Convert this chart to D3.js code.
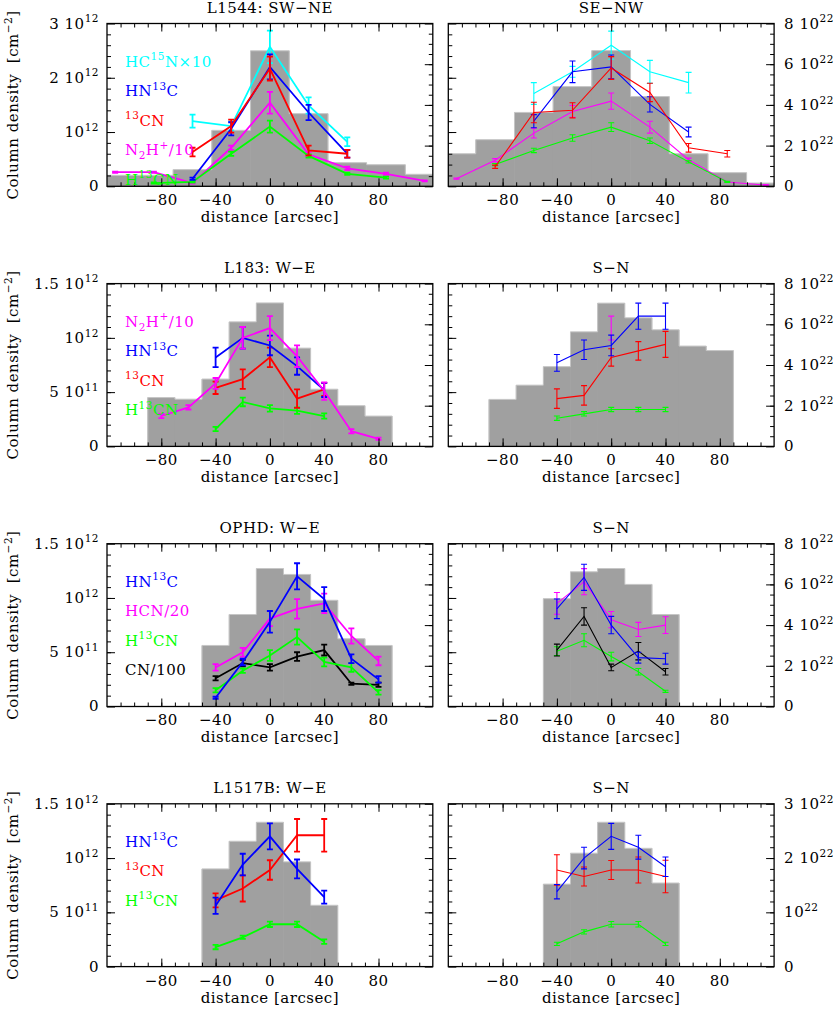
<!DOCTYPE html>
<html>
<head>
<meta charset="utf-8">
<script src="https://cdn.jsdelivr.net/npm/d3@7"></script>
<style>
  body { margin: 0; background: #fff; }
  svg { display: block; font-family: 'DejaVu Serif', 'Liberation Serif', serif; }
</style>
</head>
<body>
<svg id="chart" width="833" height="1010"></svg>
<script>

// offsets along the cuts [arcsec]
var x_l1544 = [ -114, -85.5, -57, -28.5, 0, 28.5, 57, 85.5, 114 ];
var x_l183 = [ -80, -60, -40, -20, 0, 20, 40, 60, 80 ];
var x_ophd_we = [ -40, -20, 0, 20, 40, 60, 80 ];
var x_short = [ -40, -20, 0, 20, 40 ];

// H2 column density from dust [10^22 cm^-2], grey histograms
var h2_l1544_swne = [ 0.54, 0.54, 0.82, 2.75, 6.66, 3.57, 1.16, 1.06, 0.59 ];
var h2_l1544_senw = [ 1.6, 2.29, 3.63, 4.9, 6.67, 4.41, 1.6, 0.67, 0.16 ];
var h2_l183_we = [ 2.4, 2.32, 3.31, 6.12, 7.05, 4.83, 2.81, 2.0, 1.49 ];
var h2_l183_sn = [ 2.31, 3.01, 3.92, 5.63, 7.04, 6.32, 5.73, 4.93, 4.71 ];
var h2_ophd_we = [ 3.0, 4.52, 6.78, 6.49, 5.22, 3.33, 3.0 ];
var h2_ophd_sn = [ 5.3, 6.62, 6.78, 6.0, 4.52 ];
var h2_l1517_we = [ 1.8, 2.31, 2.66, 1.93, 1.13 ];
var h2_l1517_sn = [ 1.52, 2.09, 2.66, 2.18, 1.54 ];

// molecular column densities [10^12 cm^-2] as [ offset, N, error ]
var l1544_swne_hc15n = [ [ -57, 1.2, 0.12 ], [ -28.5, 1.11, 0.08 ], [ 0, 2.57, 0.3 ], [ 28.5, 1.49, 0.15 ], [ 57, 0.82, 0.08 ] ];
var l1544_swne_hn13c = [ [ -57, 0.14, 0.02 ], [ -28.5, 1.06, 0.12 ], [ 0, 2.2, 0.23 ], [ 28.5, 1.36, 0.14 ], [ 57, 0.6, 0.07 ] ];
var l1544_swne_13cn = [ [ -57, 0.63, 0.08 ], [ -28.5, 1.11, 0.12 ], [ 0, 2.17, 0.22 ], [ 28.5, 0.66, 0.09 ], [ 57, 0.6, 0.07 ] ];
var l1544_swne_n2h = [ [ -114, 0.26, 0.01 ], [ -85.5, 0.26, 0.01 ], [ -57, 0.06, 0.01 ], [ -28.5, 0.71, 0.04 ], [ 0, 1.54, 0.2 ], [ 28.5, 0.59, 0.04 ], [ 57, 0.33, 0.03 ], [ 85.5, 0.23, 0.02 ], [ 114, 0.1, 0.01 ] ];
var l1544_swne_h13cn = [ [ -85.5, 0.06, 0.01 ], [ -57, 0.08, 0.01 ], [ -28.5, 0.6, 0.04 ], [ 0, 1.1, 0.11 ], [ 28.5, 0.56, 0.03 ], [ 57, 0.23, 0.02 ], [ 85.5, 0.16, 0.02 ] ];

var l1544_senw_hc15n = [ [ -57, 1.71, 0.2 ], [ -28.5, 2.11, 0.1 ], [ 0, 2.6, 0.26 ], [ 28.5, 2.11, 0.21 ], [ 57, 1.91, 0.19 ] ];
var l1544_senw_hn13c = [ [ -57, 1.2, 0.12 ], [ -28.5, 2.11, 0.2 ], [ 0, 2.2, 0.22 ], [ 28.5, 1.51, 0.14 ], [ 57, 1.0, 0.09 ] ];
var l1544_senw_13cn = [ [ -85.5, 0.36, 0.03 ], [ -57, 1.36, 0.19 ], [ -28.5, 1.4, 0.14 ], [ 0, 2.18, 0.21 ], [ 28.5, 1.73, 0.17 ], [ 57, 0.71, 0.08 ], [ 85.5, 0.6, 0.06 ] ];
var l1544_senw_n2h = [ [ -114, 0.14, 0.01 ], [ -85.5, 0.48, 0.03 ], [ -57, 0.98, 0.09 ], [ -28.5, 1.38, 0.11 ], [ 0, 1.57, 0.15 ], [ 28.5, 1.09, 0.11 ], [ 57, 0.49, 0.03 ], [ 85.5, 0.08, 0.01 ], [ 114, 0.02, 0.01 ] ];
var l1544_senw_h13cn = [ [ -85.5, 0.4, 0.02 ], [ -57, 0.66, 0.04 ], [ -28.5, 0.89, 0.06 ], [ 0, 1.09, 0.08 ], [ 28.5, 0.84, 0.05 ], [ 57, 0.45, 0.02 ], [ 85.5, 0.08, 0.01 ] ];

var l183_we_n2h = [ [ -80, 0.28, 0.02 ], [ -60, 0.36, 0.02 ], [ -40, 0.58, 0.05 ], [ -20, 1.0, 0.1 ], [ 0, 1.09, 0.11 ], [ 20, 0.83, 0.1 ], [ 40, 0.51, 0.08 ], [ 60, 0.14, 0.02 ], [ 80, 0.07, 0.01 ] ];
var l183_we_hn13c = [ [ -40, 0.82, 0.09 ], [ -20, 1.0, 0.1 ], [ 0, 0.93, 0.09 ], [ 20, 0.74, 0.08 ], [ 40, 0.52, 0.065 ] ];
var l183_we_13cn = [ [ -40, 0.54, 0.057 ], [ -20, 0.62, 0.09 ], [ 0, 0.82, 0.09 ], [ 20, 0.44, 0.085 ], [ 40, 0.525, 0.06 ] ];
var l183_we_h13cn = [ [ -40, 0.16, 0.02 ], [ -20, 0.41, 0.04 ], [ 0, 0.35, 0.03 ], [ 20, 0.33, 0.03 ], [ 40, 0.28, 0.025 ] ];

var l183_sn_n2h = [ [ 0, 1.09, 0.11 ] ];
var l183_sn_hn13c = [ [ -40, 0.77, 0.077 ], [ -20, 0.89, 0.09 ], [ 0, 0.93, 0.095 ], [ 20, 1.2, 0.12 ], [ 40, 1.2, 0.12 ] ];
var l183_sn_13cn = [ [ -40, 0.44, 0.09 ], [ -20, 0.47, 0.09 ], [ 0, 0.82, 0.08 ], [ 20, 0.88, 0.085 ], [ 40, 0.94, 0.12 ] ];
var l183_sn_h13cn = [ [ -40, 0.26, 0.02 ], [ -20, 0.3, 0.02 ], [ 0, 0.34, 0.02 ], [ 20, 0.34, 0.02 ], [ 40, 0.34, 0.02 ] ];

var ophd_we_hn13c = [ [ -40, 0.08, 0.01 ], [ -20, 0.41, 0.03 ], [ 0, 0.78, 0.1 ], [ 20, 1.2, 0.12 ], [ 40, 0.99, 0.11 ], [ 60, 0.44, 0.04 ], [ 80, 0.25, 0.03 ] ];
var ophd_we_hcn = [ [ -40, 0.36, 0.03 ], [ -20, 0.5, 0.04 ], [ 0, 0.81, 0.07 ], [ 20, 0.9, 0.09 ], [ 40, 0.95, 0.09 ], [ 60, 0.65, 0.07 ], [ 80, 0.42, 0.04 ] ];
var ophd_we_h13cn = [ [ -40, 0.15, 0.02 ], [ -20, 0.33, 0.02 ], [ 0, 0.47, 0.05 ], [ 20, 0.64, 0.07 ], [ 40, 0.41, 0.04 ], [ 60, 0.36, 0.04 ], [ 80, 0.13, 0.02 ] ];
var ophd_we_cn = [ [ -40, 0.26, 0.02 ], [ -20, 0.4, 0.03 ], [ 0, 0.36, 0.03 ], [ 20, 0.46, 0.04 ], [ 40, 0.52, 0.05 ], [ 60, 0.21, 0.01 ], [ 80, 0.2, 0.02 ] ];

var ophd_sn_hn13c = [ [ -40, 0.9, 0.09 ], [ -20, 1.19, 0.12 ], [ 0, 0.75, 0.08 ], [ 20, 0.45, 0.05 ], [ 40, 0.44, 0.05 ] ];
var ophd_sn_hcn = [ [ -40, 0.95, 0.1 ], [ -20, 1.15, 0.12 ], [ 0, 0.8, 0.075 ], [ 20, 0.71, 0.065 ], [ 40, 0.75, 0.077 ] ];
var ophd_sn_h13cn = [ [ -40, 0.51, 0.04 ], [ -20, 0.61, 0.06 ], [ 0, 0.46, 0.04 ], [ 20, 0.32, 0.03 ], [ 40, 0.14, 0.01 ] ];
var ophd_sn_cn = [ [ -40, 0.52, 0.055 ], [ -20, 0.83, 0.08 ], [ 0, 0.36, 0.03 ], [ 20, 0.51, 0.08 ], [ 40, 0.32, 0.03 ] ];

var l1517_we_hn13c = [ [ -40, 0.56, 0.075 ], [ -20, 0.94, 0.1 ], [ 0, 1.2, 0.12 ], [ 20, 0.9, 0.087 ], [ 40, 0.64, 0.06 ] ];
var l1517_we_13cn = [ [ -40, 0.61, 0.065 ], [ -20, 0.72, 0.12 ], [ 0, 0.89, 0.09 ], [ 20, 1.21, 0.15 ], [ 40, 1.21, 0.15 ] ];
var l1517_we_h13cn = [ [ -40, 0.18, 0.02 ], [ -20, 0.27, 0.015 ], [ 0, 0.39, 0.025 ], [ 20, 0.39, 0.025 ], [ 40, 0.23, 0.02 ] ];

var l1517_sn_hn13c = [ [ -40, 0.69, 0.066 ], [ -20, 1.0, 0.1 ], [ 0, 1.2, 0.12 ], [ 20, 1.1, 0.11 ], [ 40, 0.92, 0.09 ] ];
var l1517_sn_13cn = [ [ -40, 0.89, 0.14 ], [ -20, 0.83, 0.087 ], [ 0, 0.89, 0.087 ], [ 20, 0.89, 0.12 ], [ 40, 0.83, 0.15 ] ];
var l1517_sn_h13cn = [ [ -40, 0.21, 0.015 ], [ -20, 0.32, 0.02 ], [ 0, 0.39, 0.025 ], [ 20, 0.39, 0.025 ], [ 40, 0.21, 0.015 ] ];

// tick labels ( ^{..} superscript, _{..} subscript )
var x_tick_values = [ -80, -40, 0, 40, 80 ];
var x_tick_labels = [ '−80', '−40', '0', '40', '80' ];
var mol_ticks_3 = [ 0, 1, 2, 3 ];
var mol_labels_3 = [ '0', '10^{12}', '2 10^{12}', '3 10^{12}' ];
var mol_ticks_15 = [ 0, 0.5, 1, 1.5 ];
var mol_labels_15 = [ '0', '5 10^{11}', '10^{12}', '1.5 10^{12}' ];
var h2_ticks_8 = [ 0, 2, 4, 6, 8 ];
var h2_labels_8 = [ '0', '2 10^{22}', '4 10^{22}', '6 10^{22}', '8 10^{22}' ];
var h2_ticks_3 = [ 0, 1, 2, 3 ];
var h2_labels_3 = [ '0', '10^{22}', '2 10^{22}', '3 10^{22}' ];

// species: legend text and colour
var species_label = { hc15n: 'HC^{15}N×10', hn13c: 'HN^{13}C', cn13: '^{13}CN', n2h: 'N_{2}H^{+}/10', h13cn: 'H^{13}CN', hcn: 'HCN/20', cn: 'CN/100' };
var species_color = { hc15n: '#00ffff', hn13c: '#0000ff', cn13: '#ff0000', n2h: '#ff00ff', h13cn: '#00ff00', hcn: '#ff00ff', cn: '#000000' };

var rows = [
    { mol_max: 3, mol_ticks: mol_ticks_3, mol_labels: mol_labels_3, mol_minor: 0.2, h2_max: 8, h2_ticks: h2_ticks_8, h2_labels: h2_labels_8, h2_minor: 0.5 },
    { mol_max: 1.5, mol_ticks: mol_ticks_15, mol_labels: mol_labels_15, mol_minor: 0.1, h2_max: 8, h2_ticks: h2_ticks_8, h2_labels: h2_labels_8, h2_minor: 0.5 },
    { mol_max: 1.5, mol_ticks: mol_ticks_15, mol_labels: mol_labels_15, mol_minor: 0.1, h2_max: 8, h2_ticks: h2_ticks_8, h2_labels: h2_labels_8, h2_minor: 0.5 },
    { mol_max: 1.5, mol_ticks: mol_ticks_15, mol_labels: mol_labels_15, mol_minor: 0.1, h2_max: 3, h2_ticks: h2_ticks_3, h2_labels: h2_labels_3, h2_minor: 0.2 }
];

var panels = [
    { row: 0, col: 0, title: 'L1544: SW−NE', bins: x_l1544, step: 28.5, h2: h2_l1544_swne,
      series: [ [ 'hc15n', l1544_swne_hc15n ], [ 'n2h', l1544_swne_n2h ], [ 'h13cn', l1544_swne_h13cn ], [ 'hn13c', l1544_swne_hn13c ], [ 'cn13', l1544_swne_13cn ] ],
      legend: [ 'hc15n', 'hn13c', 'cn13', 'n2h', 'h13cn' ] },
    { row: 0, col: 1, title: 'SE−NW', bins: x_l1544, step: 28.5, h2: h2_l1544_senw,
      series: [ [ 'hc15n', l1544_senw_hc15n ], [ 'n2h', l1544_senw_n2h ], [ 'h13cn', l1544_senw_h13cn ], [ 'hn13c', l1544_senw_hn13c ], [ 'cn13', l1544_senw_13cn ] ] },
    { row: 1, col: 0, title: 'L183: W−E', bins: x_l183, step: 20, h2: h2_l183_we,
      series: [ [ 'h13cn', l183_we_h13cn ], [ 'cn13', l183_we_13cn ], [ 'hn13c', l183_we_hn13c ], [ 'n2h', l183_we_n2h ] ],
      legend: [ 'n2h', 'hn13c', 'cn13', 'h13cn' ] },
    { row: 1, col: 1, title: 'S−N', bins: x_l183, step: 20, h2: h2_l183_sn,
      series: [ [ 'n2h', l183_sn_n2h ], [ 'h13cn', l183_sn_h13cn ], [ 'cn13', l183_sn_13cn ], [ 'hn13c', l183_sn_hn13c ] ] },
    { row: 2, col: 0, title: 'OPHD: W−E', bins: x_ophd_we, step: 20, h2: h2_ophd_we,
      series: [ [ 'cn', ophd_we_cn ], [ 'h13cn', ophd_we_h13cn ], [ 'hcn', ophd_we_hcn ], [ 'hn13c', ophd_we_hn13c ] ],
      legend: [ 'hn13c', 'hcn', 'h13cn', 'cn' ] },
    { row: 2, col: 1, title: 'S−N', bins: x_short, step: 20, h2: h2_ophd_sn,
      series: [ [ 'h13cn', ophd_sn_h13cn ], [ 'cn', ophd_sn_cn ], [ 'hcn', ophd_sn_hcn ], [ 'hn13c', ophd_sn_hn13c ] ] },
    { row: 3, col: 0, title: 'L1517B: W−E', bins: x_short, step: 20, h2: h2_l1517_we,
      series: [ [ 'h13cn', l1517_we_h13cn ], [ 'cn13', l1517_we_13cn ], [ 'hn13c', l1517_we_hn13c ] ],
      legend: [ 'hn13c', 'cn13', 'h13cn' ] },
    { row: 3, col: 1, title: 'S−N', bins: x_short, step: 20, h2: h2_l1517_sn,
      series: [ [ 'h13cn', l1517_sn_h13cn ], [ 'cn13', l1517_sn_13cn ], [ 'hn13c', l1517_sn_hn13c ] ] }
];

var row_top = [ 23.5, 283.6, 543.7, 803.8 ];
var panel_h = 162.8;
var col_left = [ 107, 448.3 ];
var panel_w = 325.8;
var font_size = 15;

var svg = d3.select( '#chart' );

panels.forEach( draw_panel );

function draw_panel ( p, i ) {

    var row = rows[ p.row ];
    var left = col_left[ p.col ];
    var top = row_top[ p.row ];
    var thick = p.col === 0;

    var x = d3.scaleLinear().domain( [ -120, 120 ] ).range( [ 0, panel_w ] );
    var y_mol = d3.scaleLinear().domain( [ 0, row.mol_max ] ).range( [ panel_h, 0 ] );
    var y_h2 = d3.scaleLinear().domain( [ 0, row.h2_max ] ).range( [ panel_h, 0 ] );

    var g = svg.append( 'g' ).attr( 'transform', 'translate(' + left + ',' + top + ')' );

    g.append( 'clipPath' )
        .attr( 'id', 'clip' + i )
        .append( 'rect' )
        .attr( 'width', panel_w )
        .attr( 'height', panel_h );

    var plot = g.append( 'g' ).attr( 'clip-path', 'url(#clip' + i + ')' );

    // H2 histogram: filled bins, then a lighter outline along the steps
    var bins = d3.zip( p.bins, p.h2 );

    plot.selectAll( 'rect.bar' )
        .data( bins )
        .enter().append( 'rect' )
        .attr( 'class', 'bar' )
        .attr( 'x', function ( d ) { return x( d[ 0 ] - p.step / 2 ) - 0.3; } )
        .attr( 'width', function ( d ) { return x( d[ 0 ] + p.step / 2 ) - x( d[ 0 ] - p.step / 2 ) + 0.6; } )
        .attr( 'y', function ( d ) { return y_h2( d[ 1 ] ); } )
        .attr( 'height', function ( d ) { return panel_h - y_h2( d[ 1 ] ); } )
        .attr( 'fill', '#a0a0a0' );

    var outline = [ [ bins[ 0 ][ 0 ] - p.step / 2, 0 ] ];
    bins.forEach( function ( d ) {
        outline.push( [ d[ 0 ] - p.step / 2, d[ 1 ] ], [ d[ 0 ] + p.step / 2, d[ 1 ] ] );
    } );
    outline.push( [ bins[ bins.length - 1 ][ 0 ] + p.step / 2, 0 ] );

    plot.append( 'path' )
        .attr( 'd', d3.line()
            .x( function ( d ) { return x( d[ 0 ] ); } )
            .y( function ( d ) { return y_h2( d[ 1 ] ); } )( outline ) )
        .attr( 'fill', 'none' )
        .attr( 'stroke', '#c6c6c6' )
        .attr( 'stroke-width', 1 );

    // molecular profiles
    var line = d3.line()
        .x( function ( d ) { return x( d[ 0 ] ); } )
        .y( function ( d ) { return y_mol( d[ 1 ] ); } );

    var width = thick ? 1.8 : 1.1;

    p.series.forEach( function ( s ) {

        var color = species_color[ s[ 0 ] ];
        var sg = plot.append( 'g' )
            .attr( 'stroke', color )
            .attr( 'stroke-width', width )
            .attr( 'fill', 'none' );

        if ( s[ 1 ].length > 1 ) sg.append( 'path' ).attr( 'd', line( s[ 1 ] ) );

        var err = sg.selectAll( 'g.err' ).data( s[ 1 ] ).enter().append( 'g' );
        err.append( 'line' )
            .attr( 'x1', function ( d ) { return x( d[ 0 ] ); } )
            .attr( 'x2', function ( d ) { return x( d[ 0 ] ); } )
            .attr( 'y1', function ( d ) { return y_mol( d[ 1 ] - d[ 2 ] ); } )
            .attr( 'y2', function ( d ) { return y_mol( d[ 1 ] + d[ 2 ] ); } );
        [ -1, 1 ].forEach( function ( sign ) {
            err.append( 'line' )
                .attr( 'x1', function ( d ) { return x( d[ 0 ] ) - 3; } )
                .attr( 'x2', function ( d ) { return x( d[ 0 ] ) + 3; } )
                .attr( 'y1', function ( d ) { return y_mol( d[ 1 ] + sign * d[ 2 ] ); } )
                .attr( 'y2', function ( d ) { return y_mol( d[ 1 ] + sign * d[ 2 ] ); } );
        } );

    } );

    // frame and inward ticks
    g.append( 'rect' )
        .attr( 'width', panel_w )
        .attr( 'height', panel_h )
        .attr( 'fill', 'none' )
        .attr( 'stroke', '#000' )
        .attr( 'stroke-width', 1.3 );

    var x_minor = d3.range( -110, 111, 10 );
    var x_major = x_minor.filter( function ( v ) { return v % 40 === 0; } );
    tick_axis( g, d3.axisBottom( x ), x_minor, 4, 'translate(0,' + panel_h + ')' );
    tick_axis( g, d3.axisBottom( x ), x_major, 8, 'translate(0,' + panel_h + ')' );
    tick_axis( g, d3.axisTop( x ), x_minor, 4 );
    tick_axis( g, d3.axisTop( x ), x_major, 8 );

    var mol_minor = steps( row.mol_max, row.mol_minor );
    var h2_minor = steps( row.h2_max, row.h2_minor );
    tick_axis( g, d3.axisLeft( y_mol ), mol_minor, 4 );
    tick_axis( g, d3.axisLeft( y_mol ), row.mol_ticks, 8 );
    tick_axis( g, d3.axisRight( y_h2 ), h2_minor, 4, 'translate(' + panel_w + ',0)' );
    tick_axis( g, d3.axisRight( y_h2 ), row.h2_ticks, 8, 'translate(' + panel_w + ',0)' );

    // x tick labels
    x_tick_values.forEach( function ( v, k ) {
        g.append( 'text' )
            .attr( 'x', x( v ) )
            .attr( 'y', panel_h + 19 )
            .attr( 'text-anchor', 'middle' )
            .attr( 'font-size', font_size )
            .attr( 'letter-spacing', 0.5 )
            .text( x_tick_labels[ k ] );
    } );

    add_text( g, 'distance [arcsec]', panel_w / 2, panel_h + 36, 'middle' );
    add_text( g, p.title, panel_w / 2, -11, 'middle' );

    if ( p.col === 0 ) {

        row.mol_ticks.forEach( function ( v, k ) {
            add_text( g, row.mol_labels[ k ], -8, y_mol( v ) + 5, 'end' );
        } );

        var ylab = g.append( 'text' )
            .attr( 'transform', 'translate(' + ( 18 - left ) + ',' + ( panel_h / 2 ) + ') rotate(-90)' )
            .attr( 'text-anchor', 'middle' )
            .attr( 'font-size', font_size )
            .attr( 'letter-spacing', 0.5 )
            .style( 'white-space', 'pre' );
        rich_text( ylab, 'Column density  [cm^{−2}]', font_size );

        ( p.legend || [] ).forEach( function ( key, k ) {
            add_text( g, species_label[ key ], 125 - left, 43 + 29.5 * k, 'start' )
                .attr( 'fill', species_color[ key ] );
        } );

    } else {

        row.h2_ticks.forEach( function ( v, k ) {
            add_text( g, row.h2_labels[ k ], panel_w + 10, y_h2( v ) + 5, 'start' );
        } );

    }

}

function steps ( max, step ) {

    var n = Math.round( max / step );
    return d3.range( 1, n ).map( function ( k ) { return k * step; } );

}

function tick_axis ( g, axis, values, size, transform ) {

    var a = g.append( 'g' )
        .attr( 'transform', transform || null )
        .call( axis.tickValues( values ).tickSize( -size ).tickFormat( '' ) );

    a.select( '.domain' ).remove();
    a.selectAll( 'line' ).attr( 'stroke', '#000' ).attr( 'stroke-width', 1 );

}

function add_text ( g, str, x, y, anchor ) {

    var t = g.append( 'text' )
        .attr( 'x', x )
        .attr( 'y', y )
        .attr( 'text-anchor', anchor )
        .attr( 'font-size', font_size )
        .attr( 'letter-spacing', 0.5 )
        .style( 'white-space', 'pre' );

    rich_text( t, str, font_size );
    return t;

}

function rich_text ( sel, str, size ) {

    var parts = str.split( /(\^\{[^}]*\}|_\{[^}]*\})/ );
    var shift = 0;

    parts.forEach( function ( part ) {

        if ( part === '' ) return;

        var span = sel.append( 'tspan' );
        var target = 0;
        var txt = part;

        if ( part.charAt( 0 ) === '^' ) {
            target = -0.42 * size;
            txt = part.slice( 2, -1 );
            span.attr( 'font-size', size * 0.7 );
        } else if ( part.charAt( 0 ) === '_' ) {
            target = 0.28 * size;
            txt = part.slice( 2, -1 );
            span.attr( 'font-size', size * 0.7 );
        }

        span.attr( 'dy', target - shift ).text( txt );
        shift = target;

    } );

}

</script>
</body>
</html>
